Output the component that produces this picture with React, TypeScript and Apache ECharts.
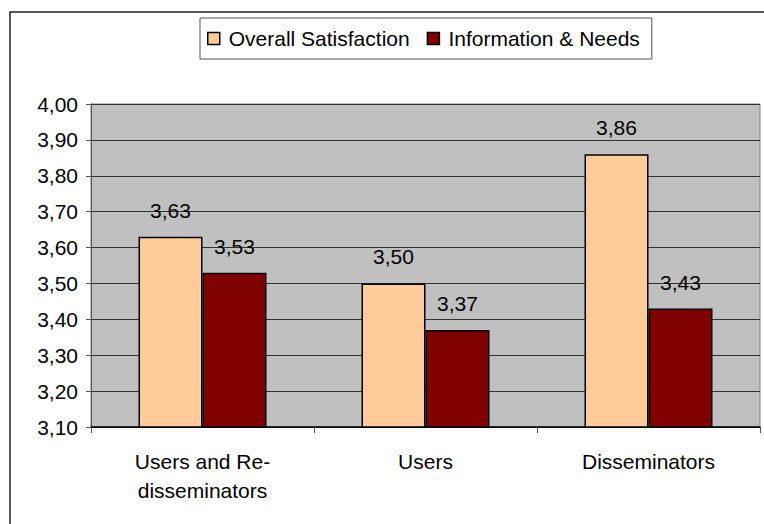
import React, { useEffect, useRef } from "react";
import * as echarts from "echarts";

const categories = ["Users and Re-\ndisseminators", "Users", "Disseminators"];
const seriesNames = ["Overall Satisfaction", "Information & Needs"];
const overallSatisfaction = [3.63, 3.5, 3.86];
const informationNeeds = [3.53, 3.37, 3.43];
const yMin = 3.1;
const yMax = 4.0;
const yInterval = 0.1;

const FONT = "'Liberation Sans', Arial, sans-serif";
const FS = 21;
const fmt = (v: number) => v.toFixed(2).replace(".", ",");

export default function App() {
  const ref = useRef<HTMLDivElement>(null);
  useEffect(() => {
    if (!ref.current) return;
    const chart = echarts.init(ref.current, undefined, { renderer: "svg" });
    const labelCfg = {
      show: true,
      position: "top" as const,
      distance: 16,
      fontSize: FS,
      color: "#000",
      fontFamily: FONT,
      formatter: (p: any) => fmt(p.value as number),
    };
    chart.setOption({
      animation: false,
      backgroundColor: "#fff",
      textStyle: { fontFamily: FONT },
      graphic: [
        {
          type: "rect",
          shape: { x: 10, y: 12, width: 800, height: 600 },
          style: { fill: "none", stroke: "#222", lineWidth: 1.5 },
          silent: true,
          z: -1,
        },
      ],
      legend: {
        left: 200,
        top: 18,
        orient: "horizontal",
        data: seriesNames,
        itemWidth: 12,
        itemHeight: 12,
        itemGap: 17,
        padding: [10, 12, 10, 7],
        borderColor: "#555",
        borderWidth: 1,
        icon: "rect",
        itemStyle: { borderColor: "#000", borderWidth: 1.5 },
        textStyle: { fontSize: FS, color: "#000", fontFamily: FONT, padding: [0, 0, 0, 4] },
      },
      grid: {
        left: 91,
        top: 104,
        width: 669,
        height: 323,
        show: true,
        backgroundColor: "#C0C0C0",
        borderColor: "#808080",
        borderWidth: 1,
        containLabel: false,
      },
      xAxis: {
        type: "category",
        data: categories,
        axisLine: { show: true, lineStyle: { color: "#000", width: 1.5 } },
        axisTick: { show: true, length: 6, lineStyle: { color: "#555" } },
        axisLabel: {
          fontSize: FS,
          color: "#000",
          margin: 20,
          lineHeight: 29,
          fontFamily: FONT,
        },
      },
      yAxis: {
        type: "value",
        min: yMin,
        max: yMax,
        interval: yInterval,
        axisLine: { show: true, lineStyle: { color: "#555" } },
        axisTick: { show: true, length: 5, lineStyle: { color: "#555" } },
        axisLabel: {
          fontSize: FS,
          color: "#000",
          margin: 13,
          fontFamily: FONT,
          formatter: (v: number) => fmt(v),
        },
        splitLine: { show: true, lineStyle: { color: "#333", width: 1 } },
      },
      series: [
        {
          name: seriesNames[0],
          type: "bar",
          data: overallSatisfaction,
          barWidth: 64,
          barGap: "0%",
          itemStyle: { color: "#FFCC99", borderColor: "#000", borderWidth: 1.5 },
          label: labelCfg,
        },
        {
          name: seriesNames[1],
          type: "bar",
          data: informationNeeds,
          barWidth: 64,
          barGap: "0%",
          itemStyle: { color: "#800000", borderColor: "#000", borderWidth: 1.5 },
          label: labelCfg,
        },
      ],
    });
    return () => chart.dispose();
  }, []);
  return (
    <div
      ref={ref}
      style={{ position: "fixed", left: 0, top: 0, width: 764, height: 524 }}
    />
  );
}
